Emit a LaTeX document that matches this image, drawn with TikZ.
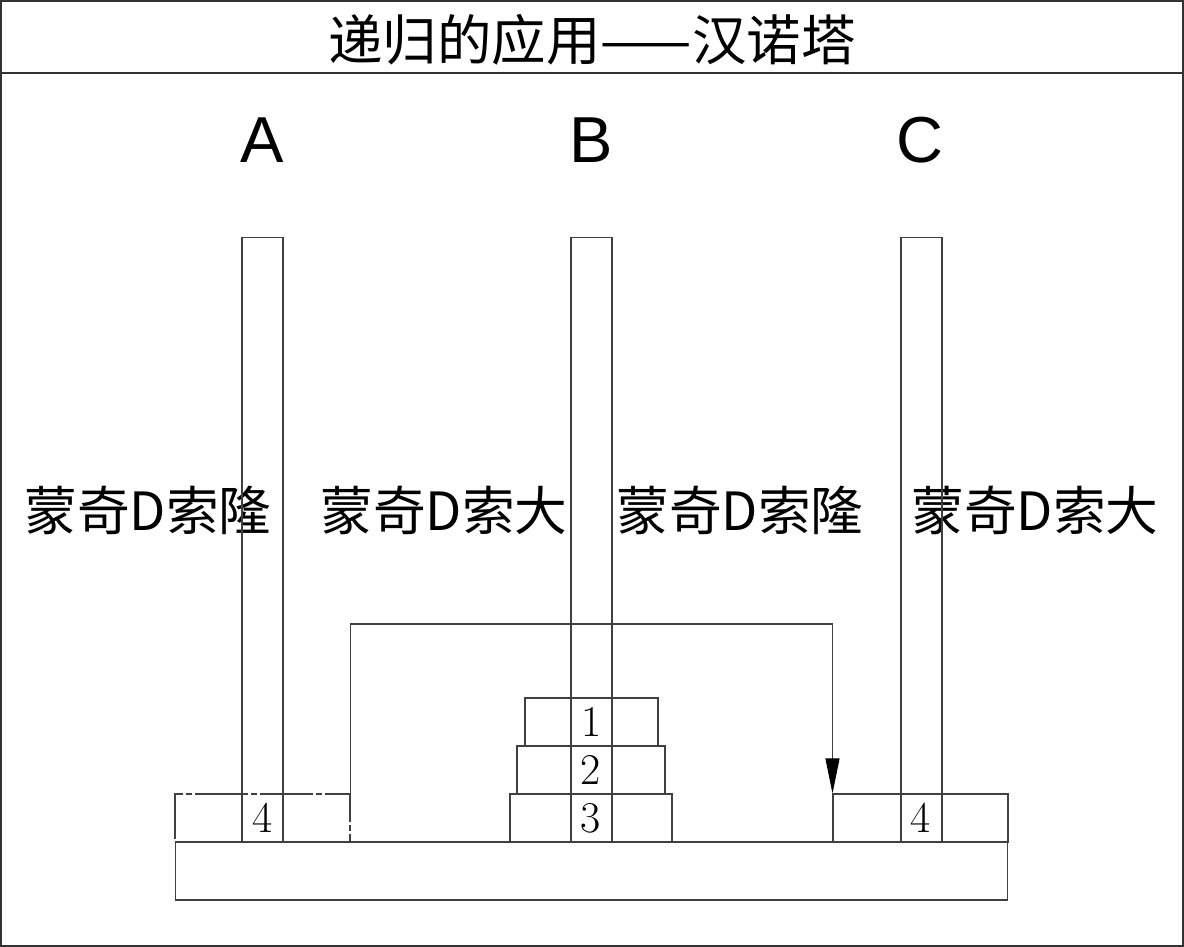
\documentclass[tikz,border=0pt]{standalone}
\usepackage{fontspec}
\newfontfamily\cjk{Noto Sans CJK SC}
\newfontfamily\arial{Liberation Sans}
\usepackage{tikz}
\usetikzlibrary{arrows.meta,positioning,calc}

\tikzset{
  line/.style={draw=black!75,line width=0.6pt},
  peg/.style={line,rectangle,inner sep=0pt,minimum width=0.82cm,minimum height=12.1cm},
  disc/.style={line,rectangle,inner sep=0pt,minimum height=0.96cm,font=\fontsize{25}{25}\selectfont},
  pegname/.style={font=\arial\fontsize{37}{37}\selectfont},
  who/.style={font=\cjk\fontsize{30}{30}\selectfont},
}

\begin{document}
\begin{tikzpicture}[x=0.02cm,y=-0.02cm]
  \useasboundingbox (0,0) rectangle (1184,947);
  \draw[draw=black!80,line width=1pt] (1,1) rectangle (1183,946);
  \draw[draw=black!80,line width=1pt] (1,73) -- (1183,73);
  \node[font=\cjk\fontsize{31}{31}\selectfont] (title) at (592,40) {递归的应用——汉诺塔};

  % peg names
  \node[pegname] (nameA) at (262,140) {A};
  \node[pegname] (nameB) at (591,140) {B};
  \node[pegname] (nameC) at (920,140) {C};

  % the four labels
  \node[who] (w1) at (148,510) {蒙奇D索隆};
  \node[who] (w2) at (444,510) {蒙奇D索大};
  \node[who] (w3) at (740,510) {蒙奇D索隆};
  \node[who] (w4) at (1035,510) {蒙奇D索大};

  % base and pegs
  \node[line,rectangle,inner sep=0pt,minimum width=16.66cm,minimum height=1.16cm] (base) at (591.5,871) {};
  \node[peg] (pegA) at (262.5,539.5) {};
  \node[peg] (pegB) at (591.5,539.5) {};
  \node[peg] (pegC) at (921.5,539.5) {};

  % discs
  \node[disc,minimum width=3.5cm,dash pattern=on 30pt off 2pt on 3pt off 2pt] (dA) at (262.5,818) {4};
  \node[disc,minimum width=3.24cm] (d3) at (591,818) {3};
  \node[disc,minimum width=2.96cm] (d2) at (591,770) {2};
  \node[disc,minimum width=2.66cm] (d1) at (591.5,722) {1};
  \node[disc,minimum width=3.5cm] (dC) at (920.5,818) {4};

  % the move
  \coordinate (top) at (591,624);
  \draw[line,-{Triangle[length=20pt,width=8pt,color=black]}] (dA.north east) |- (top) -| (dC.north west);
\end{tikzpicture}
\end{document}
